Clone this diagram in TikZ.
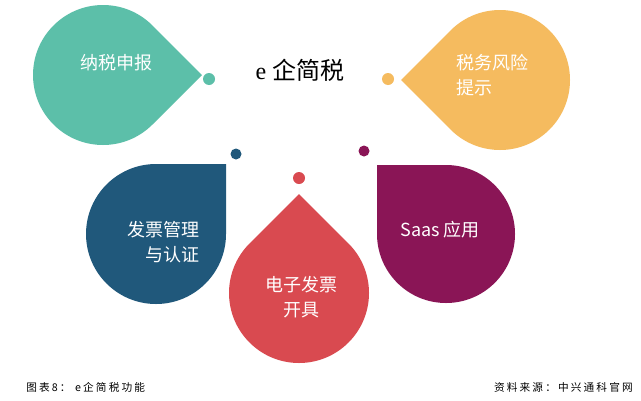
\documentclass[tikz,border=0pt]{standalone}
\usepackage{fontspec}
\setmainfont{Liberation Serif}
\newfontfamily\cjk{Noto Sans CJK SC}
\newfontfamily\cjkfoot[LetterSpace=20]{Noto Sans CJK SC}
\usetikzlibrary{calc}
\definecolor{dteal}{HTML}{5CBFA9}
\definecolor{dyellow}{HTML}{F5BB5F}
\definecolor{dblue}{HTML}{20587B}
\definecolor{dred}{HTML}{D94A50}
\definecolor{dpurple}{HTML}{8A1556}
% color, cx, cy (pixels, downward), radius, tip angle
\newcommand\teardrop[5]{%
  \fill[#1] ($(#2,-#3)+(#5:{#4*1.41421})$) -- ($(#2,-#3)+({#5+45}:#4)$)
    arc[start angle={#5+45}, delta angle=270, radius=#4] -- cycle;}
\tikzset{
  droptext/.style={text=white, font=\cjk\fontsize{13.5}{18.75}\selectfont, inner sep=0pt},
  foot/.style={text=black, font=\cjkfoot\fontsize{8}{9}\selectfont, inner sep=0pt},
}
\begin{document}
\begin{tikzpicture}[x=0.75pt,y=0.75pt]
\useasboundingbox (0,0) rectangle (641,-400);
\fill[white] (0,0) rectangle (641,-400);
% drops
\teardrop{dteal}{103}{75}{70}{0}
\teardrop{dyellow}{500}{80}{70}{180}
\teardrop{dblue}{156}{234}{70}{45}
\teardrop{dred}{299}{293}{70}{90}
\teardrop{dpurple}{446}{234}{69}{135}
% dots
\fill[dteal] (209,-79) circle[radius=6];
\fill[dyellow] (388,-79) circle[radius=6];
\fill[dblue] (236,-154) circle[radius=5.5];
\fill[dred] (299,-178) circle[radius=6];
\fill[dpurple] (364,-151) circle[radius=5.5];
% texts
\node[droptext] (t1) at (116,-63) {纳税申报};
\node[inner sep=0pt, font=\fontsize{18}{22}\selectfont] (title) at (300,-70) {e {\cjk 企简税}};
\node[droptext, align=left, anchor=west] (t2) at (456,-75.5) {税务风险\\提示};
\node[droptext, align=right, anchor=east] (t3) at (200,-242) {发票管理\\与认证};
\node[droptext, align=center] (t4) at (301,-297.5) {电子发票\\开具};
\node[droptext] (t5) at (440,-230) {Saas 应用};
% footer
\node[foot, anchor=west] (cap) at (26,-387) {图表8： e企简税功能};
\node[foot, anchor=east] (src) at (633,-387) {资料来源：中兴通科官网};
\end{tikzpicture}
\end{document}
